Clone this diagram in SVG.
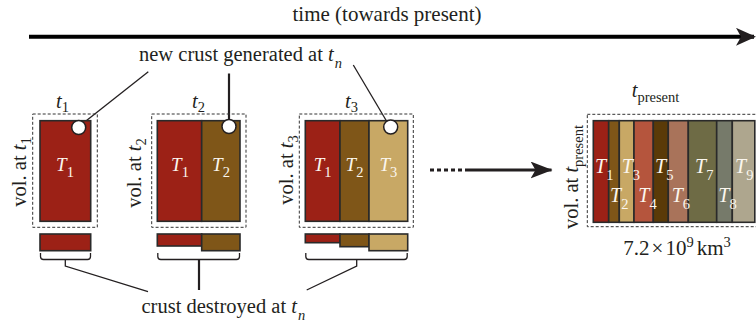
<svg xmlns="http://www.w3.org/2000/svg" width="756" height="325" viewBox="0 0 756 325">
<defs>
<style>
.lbl{font-family:"Liberation Serif","Times New Roman",serif;font-size:20.5px;fill:#231f20}
.sub{font-size:14.5px;font-style:normal}
.it{font-style:italic}
.tin{font-family:"Liberation Serif","Times New Roman",serif;font-size:19px;fill:#fbf6ee;font-style:italic}
.tin .s{font-size:14.5px;font-style:normal}
.dash{fill:none;stroke:#333;stroke-width:1;stroke-dasharray:3 2}
.bar{stroke:#2a2a2a;stroke-width:1.6}
.ln{fill:none;stroke:#231f20;stroke-width:1.3}
.lnb{fill:none;stroke:#231f20;stroke-width:2.2}
.dot{fill:#fff;stroke:#231f20;stroke-width:1.5}
.c1{fill:#9c2116}.c2{fill:#7f5618}.c3{fill:#c8a865}.c4{fill:#b5553d}.c5{fill:#5a3a08}
.c6{fill:#a9735a}.c7{fill:#6e6b45}.c8{fill:#767a6a}.c9{fill:#aea68e}
</style>
<marker id="ah" viewBox="0 0 20 18" refX="18" refY="9" markerWidth="20" markerHeight="18" markerUnits="userSpaceOnUse" orient="auto">
<path d="M0,0 L20,9 L0,18 L5,9 Z" fill="#231f20"/>
</marker>
<marker id="ah2" viewBox="0 0 22 17" refX="21" refY="8.5" markerWidth="22" markerHeight="17" markerUnits="userSpaceOnUse" orient="auto">
<path d="M0,0 L22,8.5 L0,17 L5,8.5 Z" fill="#231f20"/>
</marker>
</defs>

<g id="time-axis">
<text class="lbl" style="font-size:21px" x="387" y="20.5" text-anchor="middle">time (towards present)</text>
<line x1="29" y1="36.8" x2="754" y2="36.8" stroke="#000" stroke-width="4" marker-end="url(#ah)"/>
</g>

<g id="label-new">
<text class="lbl" x="139" y="60.5">new crust generated at <tspan class="it">t</tspan><tspan class="sub it" dx="1" dy="7.5">n</tspan></text>
</g>

<g id="label-destroyed">
<text class="lbl" x="141.5" y="312.5">crust destroyed at <tspan class="it">t</tspan><tspan class="sub it" dx="1" dy="7.5">n</tspan></text>
</g>

<g id="connectors">
<line class="ln" x1="148.3" y1="71.7" x2="84" y2="122.5"/>
<line class="lnb" x1="229" y1="73.5" x2="229" y2="119.5"/>
<line class="ln" x1="353.3" y1="65" x2="386.5" y2="121"/>
<polyline class="ln" points="65.3,259.5 65.3,266 148,291.7"/>
<line class="lnb" x1="199" y1="259.5" x2="199" y2="290"/>
<polyline class="ln" points="356.7,259.5 356.7,266 306.7,290"/>
<line x1="430" y1="170" x2="466" y2="170" stroke="#231f20" stroke-width="3" stroke-dasharray="4 3"/>
<line x1="466" y1="170" x2="551.5" y2="170" stroke="#231f20" stroke-width="3" marker-end="url(#ah2)"/>
</g>

<g id="node-t1">
<text class="lbl it" x="56" y="108">t<tspan class="sub" dy="4">1</tspan></text>
<text class="lbl" transform="translate(26,172) rotate(-90)" text-anchor="middle">vol. at <tspan class="it">t</tspan><tspan class="sub" dy="5">1</tspan></text>
<rect class="dash" x="32.7" y="114" width="64.6" height="113.3"/>
<rect class="c1 bar" x="40" y="120.7" width="50.7" height="100.6"/>
<circle class="dot" cx="78.7" cy="127.5" r="7"/>
<text class="tin" x="65" y="170.7" text-anchor="middle">T<tspan class="s" dy="6">1</tspan></text>
<rect class="c1 bar" x="40" y="234" width="50.7" height="16.7"/>
<path class="ln" d="M40.5,253 V256.5 Q40.5,259.5 43.5,259.5 H87.5 Q90.5,259.5 90.5,256.5 V253"/>
</g>

<g id="node-t2">
<text class="lbl it" x="192" y="108">t<tspan class="sub" dy="4">2</tspan></text>
<text class="lbl" transform="translate(141,173) rotate(-90)" text-anchor="middle">vol. at <tspan class="it">t</tspan><tspan class="sub" dy="5">2</tspan></text>
<rect class="dash" x="151.7" y="114" width="94.3" height="113.3"/>
<rect class="c1 bar" x="157.3" y="120.7" width="44.4" height="100.6"/>
<rect class="c2 bar" x="201.7" y="120.7" width="38.3" height="100.6"/>
<circle class="dot" cx="229" cy="126.5" r="7"/>
<text class="tin" x="180" y="170.7" text-anchor="middle">T<tspan class="s" dy="6">1</tspan></text>
<text class="tin" x="221" y="170.7" text-anchor="middle">T<tspan class="s" dy="6">2</tspan></text>
<rect class="c1 bar" x="157.3" y="234" width="44.4" height="12"/>
<rect class="c2 bar" x="201.7" y="234" width="38.3" height="16.7"/>
<path class="ln" d="M157.8,253 V256.5 Q157.8,259.5 160.8,259.5 H236.5 Q239.5,259.5 239.5,256.5 V253"/>
</g>

<g id="node-t3">
<text class="lbl it" x="345" y="108">t<tspan class="sub" dy="4">3</tspan></text>
<text class="lbl" transform="translate(293,170) rotate(-90)" text-anchor="middle">vol. at <tspan class="it">t</tspan><tspan class="sub" dy="5">3</tspan></text>
<rect class="dash" x="299.3" y="114" width="114" height="113.3"/>
<rect class="c1 bar" x="305.3" y="120.7" width="34.7" height="100.6"/>
<rect class="c2 bar" x="340" y="120.7" width="29" height="100.6"/>
<rect class="c3 bar" x="369" y="120.7" width="38.7" height="100.6"/>
<circle class="dot" cx="390.7" cy="127" r="7"/>
<text class="tin" x="322.7" y="170.7" text-anchor="middle">T<tspan class="s" dy="6">1</tspan></text>
<text class="tin" x="354.5" y="170.7" text-anchor="middle">T<tspan class="s" dy="6">2</tspan></text>
<text class="tin" x="388.3" y="170.7" text-anchor="middle">T<tspan class="s" dy="6">3</tspan></text>
<rect class="c1 bar" x="305.3" y="234" width="34.7" height="8.7"/>
<rect class="c2 bar" x="340" y="234" width="29" height="12.7"/>
<rect class="c3 bar" x="369" y="234" width="38.7" height="16.7"/>
<path class="ln" d="M305.8,253 V256.5 Q305.8,259.5 308.8,259.5 H404.2 Q407.2,259.5 407.2,256.5 V253"/>
</g>

<g id="node-present">
<text class="lbl it" x="631.7" y="96.7">t<tspan class="sub" dy="5">present</tspan></text>
<text class="lbl" transform="translate(578,177) rotate(-90)" text-anchor="middle">vol. at <tspan class="it">t</tspan><tspan class="sub" dy="5">present</tspan></text>
<rect class="dash" x="587.3" y="114.3" width="172" height="112.4"/>
<rect class="c1 bar" x="593.3" y="120.7" width="15.4" height="101.6"/>
<rect class="c2 bar" x="608.7" y="120.7" width="10.6" height="101.6"/>
<rect class="c3 bar" x="619.3" y="120.7" width="14.7" height="101.6"/>
<rect class="c4 bar" x="634" y="120.7" width="19.3" height="101.6"/>
<rect class="c5 bar" x="653.3" y="120.7" width="15" height="101.6"/>
<rect class="c6 bar" x="668.3" y="120.7" width="20" height="101.6"/>
<rect class="c7 bar" x="688.3" y="120.7" width="28.4" height="101.6"/>
<rect class="c8 bar" x="716.7" y="120.7" width="15.6" height="101.6"/>
<rect class="c9 bar" x="732.3" y="120.7" width="22.5" height="101.6"/>
<g class="tin" style="font-size:20px">
<text x="595" y="173">T<tspan class="s" dy="7">1</tspan></text>
<text x="621.7" y="173">T<tspan class="s" dy="7">3</tspan></text>
<text x="655" y="173">T<tspan class="s" dy="7">5</tspan></text>
<text x="695" y="173">T<tspan class="s" dy="7">7</tspan></text>
<text x="735" y="173">T<tspan class="s" dy="7">9</tspan></text>
<text x="610" y="201.7">T<tspan class="s" dy="7">2</tspan></text>
<text x="638.3" y="201.7">T<tspan class="s" dy="7">4</tspan></text>
<text x="671.7" y="201.7">T<tspan class="s" dy="7">6</tspan></text>
<text x="718.3" y="201.7">T<tspan class="s" dy="7">8</tspan></text>
</g>
<text class="lbl" style="font-size:21px" x="677" y="255" text-anchor="middle">7.2<tspan dx="2">×</tspan><tspan dx="2">10</tspan><tspan class="sub" dy="-8">9</tspan><tspan dx="3" dy="8">km</tspan><tspan class="sub" dy="-8">3</tspan></text>
</g>
</svg>
